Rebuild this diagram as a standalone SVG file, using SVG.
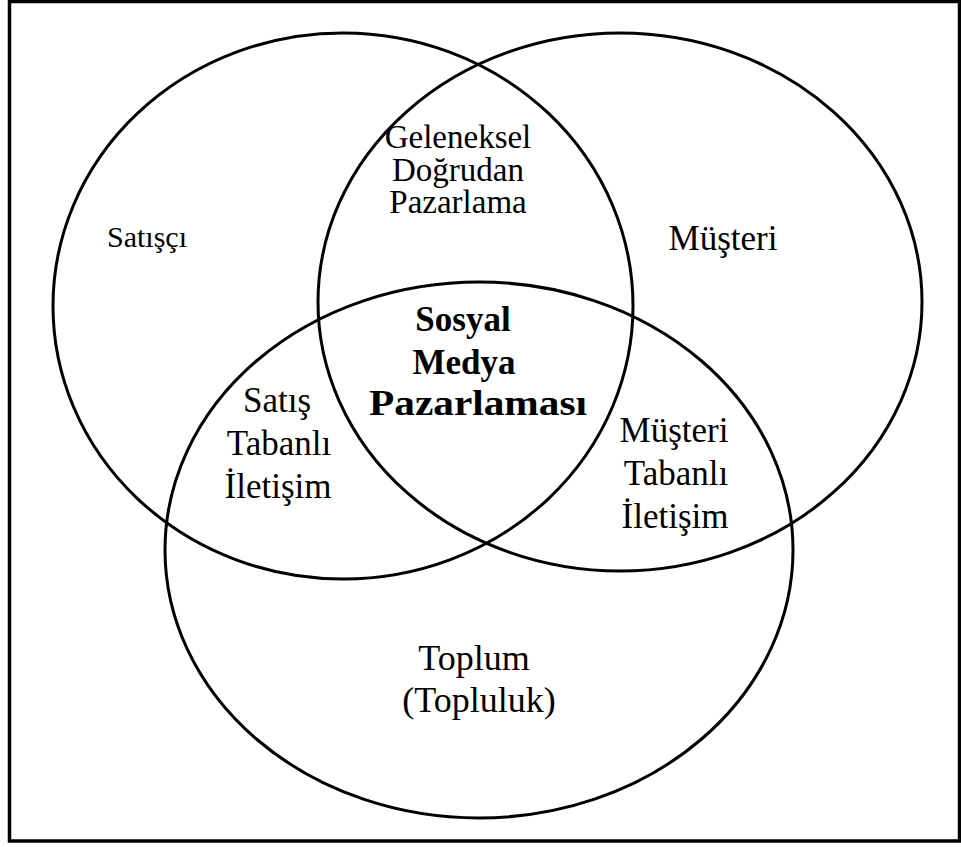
<svg xmlns="http://www.w3.org/2000/svg" width="961" height="847" viewBox="0 0 961 847">
<style>
.c{fill:none;stroke:#000;stroke-width:3}
.t{font-family:"Liberation Serif","Times New Roman",serif;font-size:35px;fill:#000;text-anchor:middle}
.b{font-weight:bold;font-size:35px}
.s{font-size:30px}
.g{font-size:33px}
.p{font-size:36px}
</style>
<rect x="0" y="0" width="961" height="847" fill="#fff"/>
<rect x="9.5" y="1.5" width="950" height="839.5" fill="none" stroke="#000" stroke-width="3.5"/>
<g id="connectors"></g>
<g id="saticil"><ellipse class="c" cx="343" cy="306" rx="290" ry="273"/><text class="t s" x="147" y="247">Satışçı</text></g>
<g id="musteri"><ellipse class="c" cx="620" cy="302" rx="302" ry="269"/><text class="t" x="723" y="250">Müşteri</text></g>
<g id="toplum"><ellipse class="c" cx="479" cy="550" rx="314" ry="268"/><text class="t p" x="474" y="670">Toplum</text><text class="t p" x="479" y="712">(Topluluk)</text></g>
<g id="geleneksel"><text class="t g" x="458" y="148">Geleneksel</text><text class="t g" x="458" y="181">Doğrudan</text><text class="t g" x="458" y="213">Pazarlama</text></g>
<g id="sosyal"><text class="t b" x="463" y="331">Sosyal</text><text class="t b" x="464" y="374">Medya</text><text class="t b" x="478" y="415" textLength="218" lengthAdjust="spacingAndGlyphs">Pazarlaması</text></g>
<g id="satis"><text class="t" x="277" y="412">Satış</text><text class="t" x="279" y="455">Tabanlı</text><text class="t" x="278" y="498">İletişim</text></g>
<g id="musteritab"><text class="t" x="674" y="442">Müşteri</text><text class="t" x="676" y="485">Tabanlı</text><text class="t" x="675" y="528">İletişim</text></g>
</svg>
